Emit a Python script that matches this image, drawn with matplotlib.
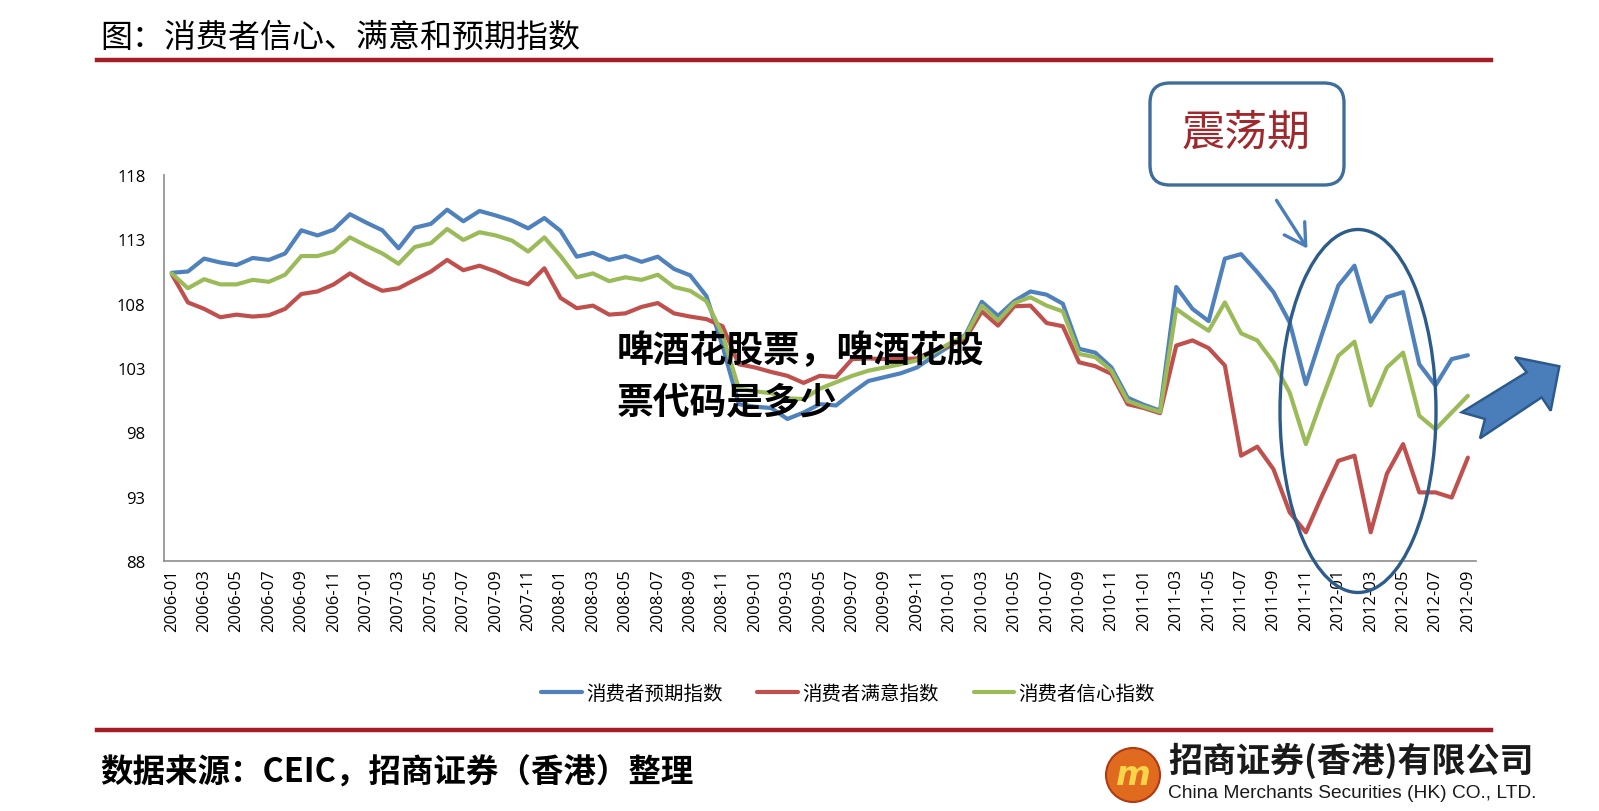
import numpy as np
import pandas as pd
import matplotlib
matplotlib.use('Agg')
import matplotlib.pyplot as plt
import matplotlib.patches as mpl_patches
import matplotlib.lines as mpl_lines
import matplotlib.transforms as mpl_tr

plt.rcParams['font.family'] = ['Noto Sans CJK SC', 'DejaVu Sans']

W, H = 1599, 812

# ---- data ----
months = [str(p) for p in pd.period_range('2006-01', '2012-09', freq='M')]

expect_idx = [
    110.4, 110.5, 111.5, 111.2, 111.0, 111.55, 111.4, 111.9, 113.7, 113.3,
    113.75, 114.95, 114.3, 113.7, 112.3, 113.9, 114.2, 115.3, 114.4, 115.2,
    114.85, 114.45, 113.85, 114.65, 113.65, 111.65, 111.95, 111.4, 111.7, 111.25,
    111.65, 110.7, 110.2, 108.6, 104.7, 100.2, 100.0, 99.9, 99.05, 99.55,
    100.2, 100.1, 101.1, 102.0, 102.3, 102.6, 103.05, 103.9, 104.7, 105.6,
    108.15, 107.05, 108.2, 108.95, 108.7, 108.0, 104.5, 104.2, 103.05, 100.7,
    100.15, 99.7, 109.3, 107.6, 106.65, 111.5, 111.85, 110.45, 108.9, 106.55,
    101.75, 105.65, 109.4, 110.95, 106.6, 108.5, 108.9, 103.3, 101.65, 103.7,
    104.0,
]

satisfy_idx = [
    110.3, 108.1, 107.6, 106.95, 107.15, 107.0, 107.1, 107.6, 108.75, 108.95,
    109.5, 110.35, 109.6, 109.0, 109.2, 109.85, 110.5, 111.4, 110.6, 110.95,
    110.5, 109.9, 109.5, 110.75, 108.45, 107.65, 107.85, 107.15, 107.25, 107.75,
    108.05, 107.25, 107.0, 106.8, 106.25, 103.3, 103.05, 102.7, 102.4, 101.85,
    102.4, 102.3, 103.7, 103.75, 103.7, 103.7, 103.75, 104.35, 104.75, 105.3,
    107.4, 106.3, 107.8, 107.85, 106.5, 106.25, 103.45, 103.15, 102.55, 100.2,
    99.9, 99.5, 104.75, 105.15, 104.55, 103.2, 96.2, 96.9, 95.15, 91.8,
    90.25, 93.1, 95.8, 96.2, 90.25, 94.8, 97.1, 93.35, 93.35, 92.95,
    96.05,
]

confidence_idx = [
    110.35, 109.2, 109.9, 109.5, 109.5, 109.85, 109.7, 110.25, 111.7, 111.7,
    112.05, 113.15, 112.5, 111.9, 111.1, 112.4, 112.7, 113.8, 112.95, 113.55,
    113.3, 112.9, 112.05, 113.15, 111.7, 110.05, 110.35, 109.75, 110.05, 109.85,
    110.25, 109.3, 109.0, 108.2, 105.6, 101.4, 101.2, 101.05, 100.65, 100.6,
    101.4, 101.9, 102.4, 102.8, 103.05, 103.3, 103.6, 104.2, 104.9, 105.5,
    107.85, 106.7, 108.05, 108.5, 107.85, 107.4, 104.1, 103.85, 102.8, 100.45,
    100.0, 99.6, 107.6, 106.7, 105.9, 108.1, 105.7, 105.15, 103.45, 101.1,
    97.1, 100.6, 103.95, 105.05, 100.1, 103.05, 104.2, 99.3, 98.25, 99.55,
    100.85,
]

series_names = ['消费者预期指数', '消费者满意指数', '消费者信心指数']
series_colors = ['#4F81BD', '#C0504D', '#9BBB59']
y_ticks = [88, 93, 98, 103, 108, 113, 118]

TICK_FONT = {'family': 'Open Sans', 'size': 12}
PIX = mpl_tr.IdentityTransform()
RULE_COLOR = '#A51C24'
CALLOUT_BLUE = '#3F6E9E'


def px(x, y):
    # reference pixel (top-left origin) -> display pixel
    return x, H - y


fig = plt.figure(figsize=(W / 100, H / 100), dpi=100)
fig.patch.set_facecolor('white')

ax_left, ax_right = 163.6, 1476.0
ax_top, ax_bottom = 175.9, 562.3
ax = fig.add_axes([ax_left / W, 1 - ax_bottom / H,
                   (ax_right - ax_left) / W, (ax_bottom - ax_top) / H])

x = np.arange(len(months))
handles = []
for vals, name, color in zip([expect_idx, satisfy_idx, confidence_idx],
                             series_names, series_colors):
    ln, = ax.plot(x, vals, color=color, lw=3.0, label=name,
                  solid_capstyle='round', solid_joinstyle='round')
    handles.append(ln)

ax.set_xlim(-0.5, len(months) - 0.5)
ax.set_ylim(y_ticks[0], y_ticks[-1])
ax.set_yticks(y_ticks)
ax.set_yticklabels([str(t) for t in y_ticks], fontdict=TICK_FONT)
ax.set_xticks(x[::2])
ax.set_xticklabels(months[::2], rotation=90, fontdict=TICK_FONT)
ax.tick_params(axis='y', length=0, pad=13)
ax.tick_params(axis='x', length=0, pad=5)
for side in ['top', 'right']:
    ax.spines[side].set_visible(False)
for side in ['left', 'bottom']:
    ax.spines[side].set_color('#8c8c8c')
    ax.spines[side].set_linewidth(1.2)

fig.legend(handles=handles, labels=series_names, loc='center',
           bbox_to_anchor=(848 / W, 1 - 694 / H), ncol=3, frameon=False,
           fontsize=14, handlelength=2.1, handletextpad=0.2, columnspacing=1.8)

# ---- header / footer ----
fig.text(100 / W, 1 - 38 / H, '图：消费者信心、满意和预期指数',
         fontsize=23, ha='left', va='center')
fig.add_artist(mpl_lines.Line2D([97 / W, 1491 / W], [1 - 61 / H, 1 - 61 / H],
                                color=RULE_COLOR, lw=3.2))
fig.add_artist(mpl_lines.Line2D([97 / W, 1491 / W], [1 - 731 / H, 1 - 731 / H],
                                color=RULE_COLOR, lw=3.2))
fig.text(100 / W, 1 - 773 / H, '数据来源：CEIC，招商证券（香港）整理',
         fontsize=23.4, fontweight='bold', ha='left', va='center')

# logo
fig.add_artist(mpl_patches.Circle(px(1133, 776), 27, transform=PIX,
                                  facecolor='#E06A1E', edgecolor='#B03A14', lw=1.5))
fig.text(1133 / W, 1 - 776 / H, 'm', fontsize=24, fontweight='bold', style='italic',
         color='#F7D44A', ha='center', va='center', family='DejaVu Sans')
fig.text(1168 / W, 1 - 761 / H, '招商证券(香港)有限公司', fontsize=24.5,
         fontweight='bold', ha='left', va='center', color='#1a1a1a')
fig.text(1168 / W, 1 - 794 / H, 'China Merchants Securities (HK) CO., LTD.',
         fontsize=13.8, ha='left', va='center', color='#1a1a1a',
         family='Liberation Sans')

# ---- overlay text ----
fig.text(617 / W, 1 - 352 / H, '啤酒花股票，啤酒花股', fontsize=26.5,
         fontweight='heavy', ha='left', va='center', color='black')
fig.text(617 / W, 1 - 403 / H, '票代码是多少', fontsize=26.5,
         fontweight='heavy', ha='left', va='center', color='black')

# ---- callout ----
bx, by = px(1150, 186)
fig.add_artist(mpl_patches.FancyBboxPatch(
    (bx, by), 194, 102, boxstyle='round,pad=0,rounding_size=20', transform=PIX,
    facecolor='white', edgecolor=CALLOUT_BLUE, lw=2.4))
fig.text(1246 / W, 1 - 134 / H, '震荡期', fontsize=31, color='#A0282D',
         ha='center', va='center')
fig.add_artist(mpl_patches.FancyArrowPatch(
    px(1275, 199), px(1309, 252), transform=PIX,
    arrowstyle='->,head_length=0.6,head_width=0.35', mutation_scale=25,
    color='#4A7EBB', lw=2.4))
fig.add_artist(mpl_patches.Ellipse(px(1358, 412), 156, 363, transform=PIX,
                                   fill=False, edgecolor='#2E5C8A', lw=2.4))

# big up-right arrow
arrow_pts = [(1461.7, 413.3), (1526.7, 373.3), (1515, 358.3), (1559.3, 367.3),
             (1550.7, 411.7), (1541.7, 398.3), (1480, 439.3), (1485, 420)]
fig.add_artist(mpl_patches.Polygon([px(a, b) for a, b in arrow_pts], closed=True,
                                   transform=PIX, facecolor='#4A7EBB',
                                   edgecolor='#2C5A8C', lw=1.8))

fig.savefig('out.png', dpi=100, facecolor='white')
